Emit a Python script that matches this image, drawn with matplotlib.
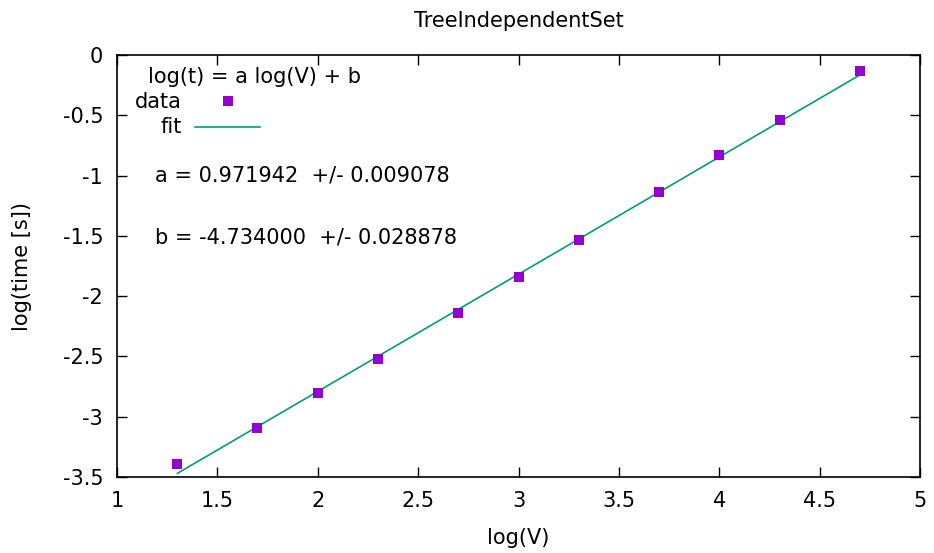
import numpy as np
import matplotlib
matplotlib.use('Agg')
import matplotlib.pyplot as plt

# log10 de V y del tiempo
log_v = [1.301, 1.699, 2.0, 2.301, 2.699, 3.0, 3.301, 3.699, 4.0, 4.301, 4.699]
log_t = [-3.39, -3.093, -2.80, -2.52, -2.139, -1.841, -1.534, -1.136, -0.829, -0.539, -0.133]

# parametros del ajuste
a, a_err = 0.971942, 0.009078
b, b_err = -4.734000, 0.028878

fs = 15
plt.rcParams['font.family'] = 'DejaVu Sans'
plt.rcParams['font.size'] = fs

fig = plt.figure(figsize=(9.34, 5.53), dpi=100)
ax = fig.add_axes([0.1253, 0.1374, 0.8597, 0.7631])

x_fit = np.array([min(log_v), max(log_v)])
ax.plot(x_fit, a * x_fit + b, color='#009e73', lw=1.2, zorder=2)
ax.plot(log_v, log_t, 's', color='#9400d3', ms=7, zorder=3, markeredgewidth=0)

ax.set_xlim(1, 5)
ax.set_ylim(-3.5, 0)
ax.set_xticks(np.arange(1, 5.01, 0.5))
ax.set_yticks(np.arange(-3.5, 0.01, 0.5))
ax.set_xticklabels(['1', '1.5', '2', '2.5', '3', '3.5', '4', '4.5', '5'])
ax.set_yticklabels(['-3.5', '-3', '-2.5', '-2', '-1.5', '-1', '-0.5', '0'])
ax.tick_params(direction='in', top=True, right=True, length=7, width=1, labelsize=fs, pad=10)
for s in ax.spines.values():
    s.set_linewidth(1.2)

ax.set_xlabel('log(V)', fontsize=fs, labelpad=12)
ax.set_ylabel('log(time [s])', fontsize=fs, labelpad=22)
ax.set_title('TreeIndependentSet', fontsize=fs, pad=20)

# leyenda estilo gnuplot
ax.text(1.155, -0.18, 'log(t) = a log(V) + b', fontsize=fs, va='center')
ax.text(1.32, -0.39, 'data', fontsize=fs, va='center', ha='right')
ax.plot([1.553], [-0.38], 's', color='#9400d3', ms=7, markeredgewidth=0)
ax.text(1.325, -0.60, 'fit', fontsize=fs, va='center', ha='right')
ax.plot([1.39, 1.71], [-0.597, -0.597], color='#009e73', lw=1.2)
ax.text(1.19, -1.003, 'a = %f  +/- %f' % (a, a_err), fontsize=fs, va='center')
ax.text(1.19, -1.517, 'b = %f  +/- %f' % (b, b_err), fontsize=fs, va='center')

fig.savefig('out.png', dpi=100)
